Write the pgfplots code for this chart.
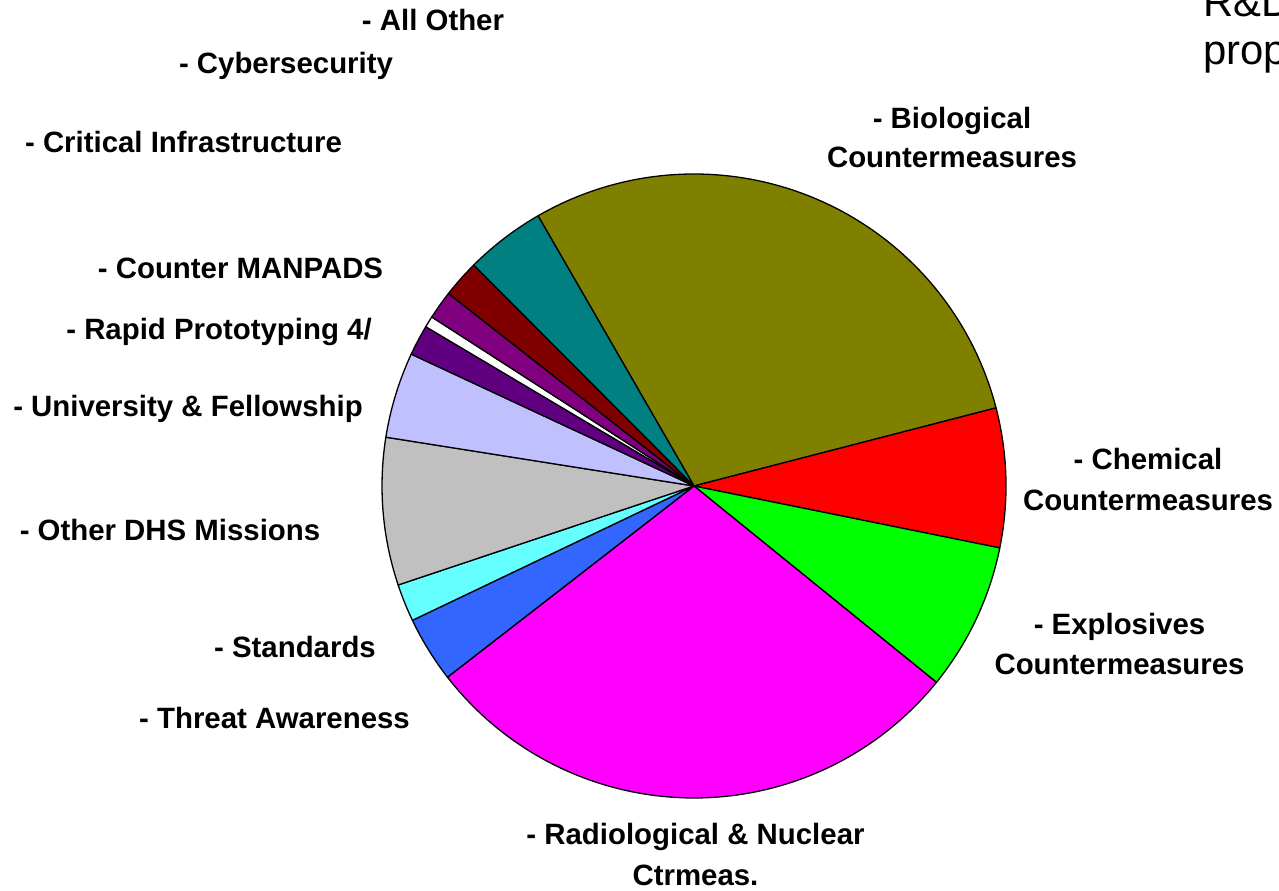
\documentclass[border=0pt]{standalone}
\usepackage{pgfplots}
\pgfplotsset{compat=1.18}
\usepackage{fontspec}
\setmainfont{Liberation Sans}
\definecolor{cBio}{HTML}{808000}
\definecolor{cChem}{HTML}{FF0000}
\definecolor{cExpl}{HTML}{00FF00}
\definecolor{cRad}{HTML}{FF00FF}
\definecolor{cThreat}{HTML}{3366FF}
\definecolor{cStd}{HTML}{66FFFF}
\definecolor{cOther}{HTML}{C0C0C0}
\definecolor{cUniv}{HTML}{C0C0FF}
\definecolor{cRapid}{HTML}{600080}
\definecolor{cManpads}{HTML}{FFFFFF}
\definecolor{cCrit}{HTML}{800080}
\definecolor{cCyber}{HTML}{800000}
\definecolor{cAll}{HTML}{008080}
\tikzset{lbl/.style={font=\bfseries\fontsize{29.5}{40}\selectfont, anchor=base, inner sep=0pt}}
\begin{document}
\begin{tikzpicture}
\begin{axis}[
  hide axis, scale only axis, width=1279bp, height=891bp,
  xmin=0, xmax=1279, ymin=0, ymax=891, clip=false, no markers,
  every axis plot/.append style={draw=black, line width=1.3bp, line join=round},
]
% slices: start angle, end angle (degrees); centre (694,405), radius 312
\addplot[fill=cBio,     domain=14.5:120.0,   samples=90, variable=\t] ({694+312*cos(\t)},{405+312*sin(\t)}) -- (694,405) -- cycle;
\addplot[fill=cChem,    domain=-11.45:14.5,  samples=30, variable=\t] ({694+312*cos(\t)},{405+312*sin(\t)}) -- (694,405) -- cycle;
\addplot[fill=cExpl,    domain=-39.0:-11.45, samples=30, variable=\t] ({694+312*cos(\t)},{405+312*sin(\t)}) -- (694,405) -- cycle;
\addplot[fill=cRad,     domain=-142.2:-39.0, samples=90, variable=\t] ({694+312*cos(\t)},{405+312*sin(\t)}) -- (694,405) -- cycle;
\addplot[fill=cThreat,  domain=205.5:217.8,  samples=15, variable=\t] ({694+312*cos(\t)},{405+312*sin(\t)}) -- (694,405) -- cycle;
\addplot[fill=cStd,     domain=198.5:205.5,  samples=10, variable=\t] ({694+312*cos(\t)},{405+312*sin(\t)}) -- (694,405) -- cycle;
\addplot[fill=cOther,   domain=171.0:198.5,  samples=30, variable=\t] ({694+312*cos(\t)},{405+312*sin(\t)}) -- (694,405) -- cycle;
\addplot[fill=cUniv,    domain=155.0:171.0,  samples=20, variable=\t] ({694+312*cos(\t)},{405+312*sin(\t)}) -- (694,405) -- cycle;
\addplot[fill=cRapid,   domain=149.3:155.0,  samples=8,  variable=\t] ({694+312*cos(\t)},{405+312*sin(\t)}) -- (694,405) -- cycle;
\addplot[fill=cManpads, domain=147.2:149.3,  samples=4,  variable=\t] ({694+312*cos(\t)},{405+312*sin(\t)}) -- (694,405) -- cycle;
\addplot[fill=cCrit,    domain=141.9:147.2,  samples=8,  variable=\t] ({694+312*cos(\t)},{405+312*sin(\t)}) -- (694,405) -- cycle;
\addplot[fill=cCyber,   domain=134.9:141.9,  samples=10, variable=\t] ({694+312*cos(\t)},{405+312*sin(\t)}) -- (694,405) -- cycle;
\addplot[fill=cAll,     domain=120.0:134.9,  samples=18, variable=\t] ({694+312*cos(\t)},{405+312*sin(\t)}) -- (694,405) -- cycle;
% labels
\node[lbl] at (433,860) {- All Other};
\node[lbl] at (286,817) {- Cybersecurity};
\node[lbl] at (183.5,738) {- Critical Infrastructure};
\node[lbl] at (952,762) {- Biological};
\node[lbl] at (952,723) {Countermeasures};
\node[lbl] at (240.5,612) {- Counter MANPADS};
\node[lbl] at (219,551) {- Rapid Prototyping 4/};
\node[lbl] at (188,474) {- University \& Fellowship};
\node[lbl] at (1148,421) {- Chemical};
\node[lbl] at (1148,380) {Countermeasures};
\node[lbl] at (170,350) {- Other DHS Missions};
\node[lbl] at (1119.5,256) {- Explosives};
\node[lbl] at (1119.5,216) {Countermeasures};
\node[lbl] at (295,233) {- Standards};
\node[lbl] at (274.5,162) {- Threat Awareness};
\node[lbl] at (695.5,46) {- Radiological \& Nuclear};
\node[lbl] at (695.5,6) {Ctrmeas.};
\node[font=\fontsize{42}{48}\selectfont, anchor=base west, inner sep=0pt] at (1203,874) {R\&D};
\node[font=\fontsize{42}{48}\selectfont, anchor=base west, inner sep=0pt] at (1203,826) {prop};
\end{axis}
\pgfresetboundingbox
\path[use as bounding box] (current axis.south west) rectangle (current axis.north east);
\end{tikzpicture}
\end{document}
